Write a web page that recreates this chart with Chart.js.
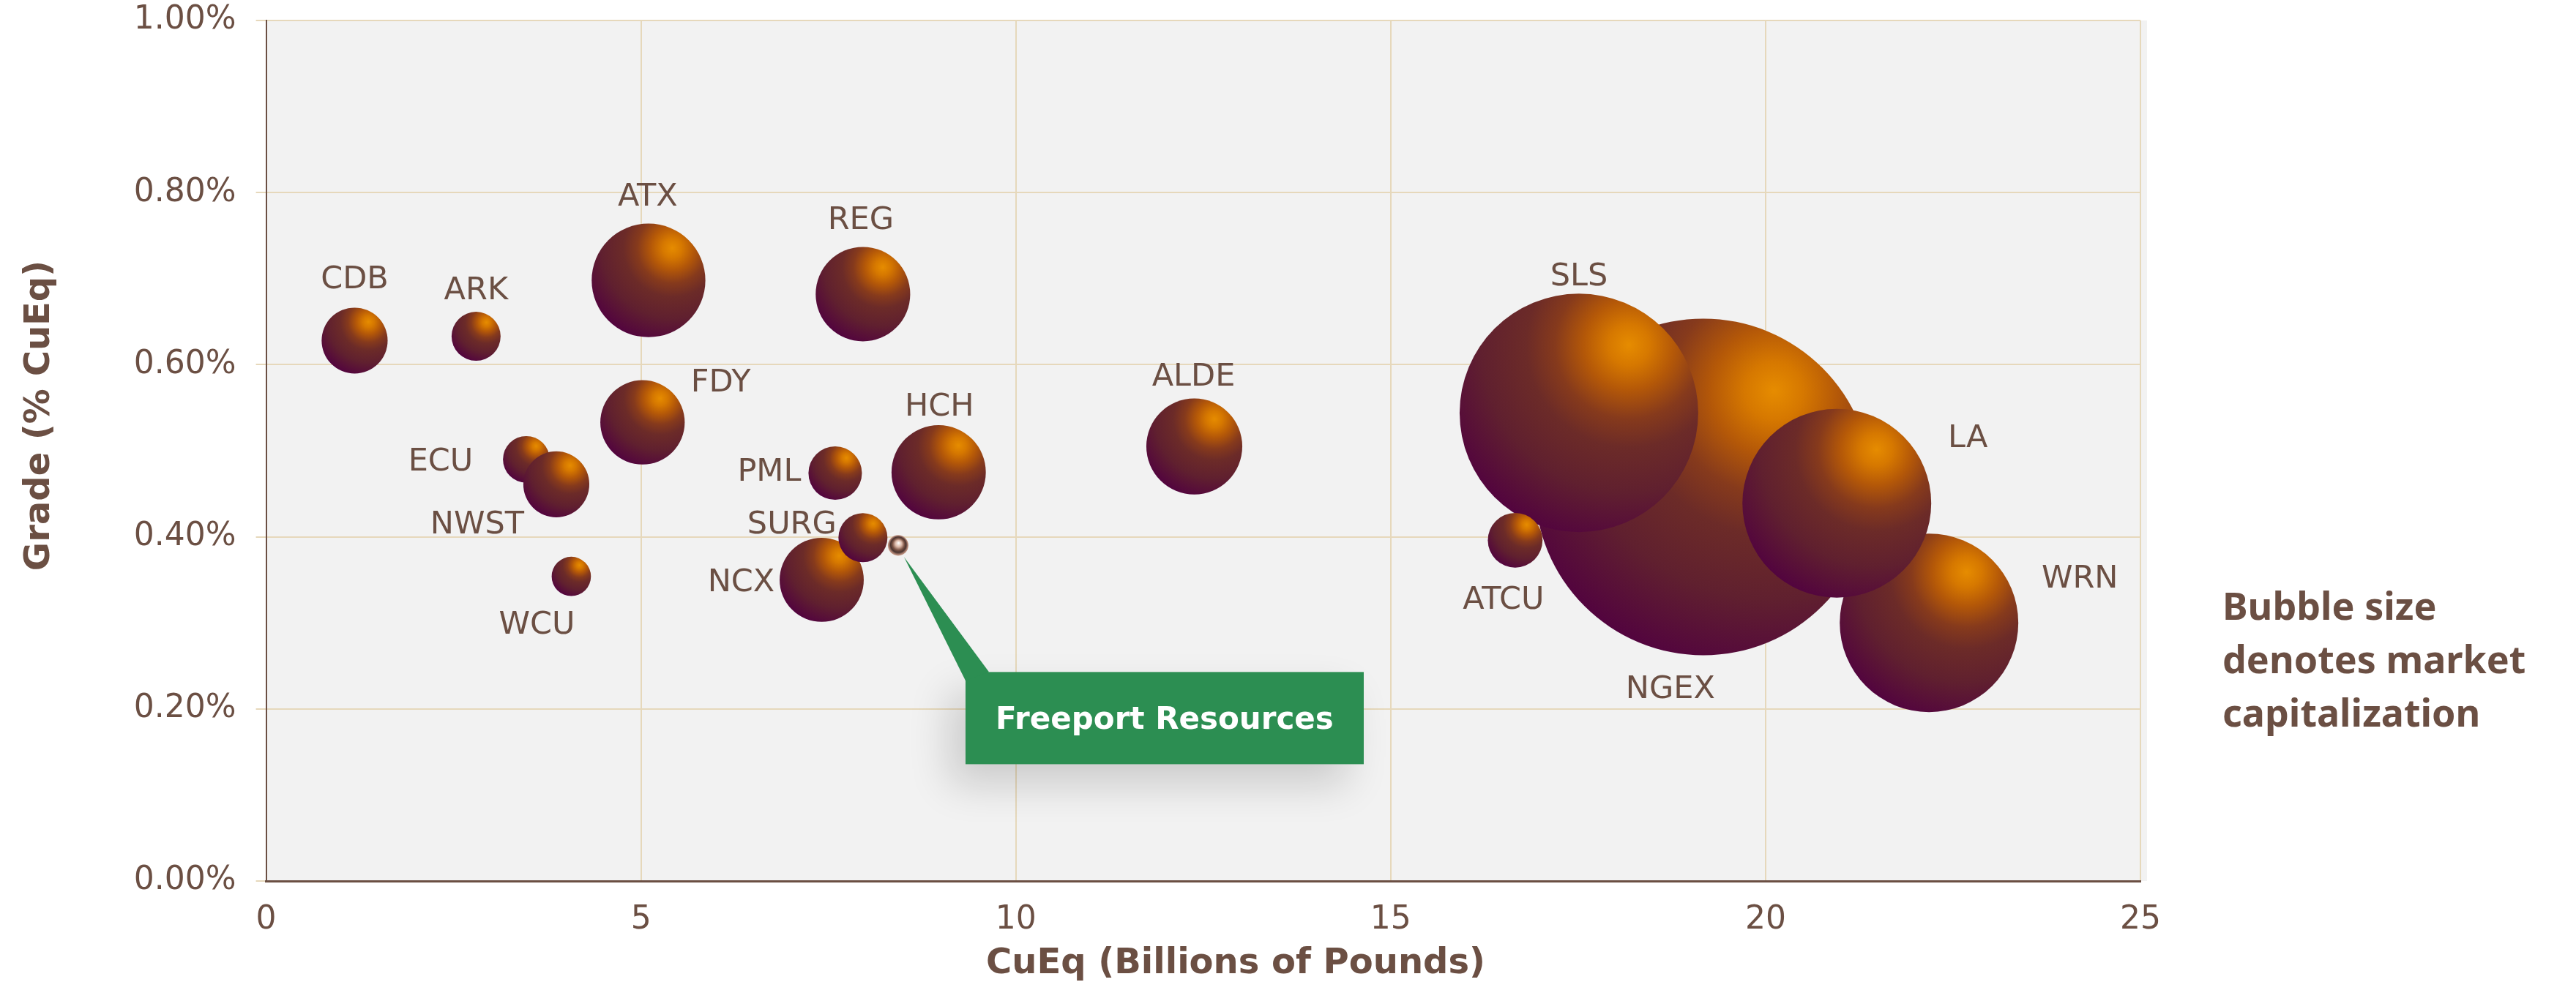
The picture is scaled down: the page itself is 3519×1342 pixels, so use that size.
<!DOCTYPE html>
<html>
<head>
<meta charset="utf-8">
<script src="https://cdn.jsdelivr.net/npm/chart.js@4.4.1/dist/chart.umd.min.js"></script>
<style>
html,body{margin:0;padding:0;background:#ffffff;}
canvas{display:block;}
</style>
</head>
<body>
<canvas id="c" width="3519" height="1342"></canvas>
<script>
// ---------- DATA ----------
const companies  = ['NGEX','WRN','LA','SLS','ATCU','CDB','ARK','ATX','REG','FDY','ECU','NWST','WCU','PML','HCH','NCX','SURG','ALDE'];
const cuEqBlbs   = [19.17, 22.18, 20.95, 17.51, 16.66, 1.18, 2.80, 5.10, 7.96, 5.02, 3.47, 3.87, 4.07, 7.59, 8.97, 7.41, 7.96, 12.38];
const gradePct   = [0.458, 0.300, 0.439, 0.544, 0.396, 0.628, 0.633, 0.698, 0.682, 0.533, 0.490, 0.461, 0.354, 0.474, 0.475, 0.350, 0.399, 0.505];
const marketCap  = [2500, 703, 786, 1255, 66, 96, 53, 285, 197, 157, 48, 96, 34, 63, 196, 156, 53, 203];

const highlightName  = ['Freeport Resources'];
const highlightCuEq  = [8.43];
const highlightGrade = [0.390];
const highlightCap   = [9.3];

const xTickLabels = ['0','5','10','15','20','25'];
const yTickLabels = ['0.00%','0.20%','0.40%','0.60%','0.80%','1.00%'];

const xTitle = 'CuEq (Billions of Pounds)';
const yTitle = 'Grade (% CuEq)';
const noteLines = ['Bubble size','denotes market','capitalization'];

// ---------- STYLE ----------
const BROWN = '#6b4f43';
const GRID = '#e6d8bb';
const GREEN = '#2c8e52';
const BUBBLE_K = 4.6; // px radius per sqrt(market cap)
const labelOffsets = {
  CDB:[0,-87], ARK:[0,-66], ATX:[-1,-118], REG:[-3,-104], FDY:[107,-58],
  ECU:[-117,0], NWST:[-108,52], WCU:[-47,63], PML:[-90,-5], HCH:[1,-93],
  SURG:[-97,-21], NCX:[-110,0], ALDE:[-1,-99], ATCU:[-16,78], SLS:[0,-190],
  NGEX:[-45,273], LA:[179,-92], WRN:[206,-64]
};

const mainData = companies.map((n,i)=>({x:cuEqBlbs[i], y:gradePct[i], r:BUBBLE_K*Math.sqrt(marketCap[i])}));
const hlData = highlightName.map((n,i)=>({x:highlightCuEq[i], y:highlightGrade[i], r:BUBBLE_K*Math.sqrt(highlightCap[i])}));

function centerOf(c){
  const ch=c.chart, xs=ch.scales && ch.scales.x, ys=ch.scales && ch.scales.y;
  if (!xs || !ys || !c.raw) return null;
  const cx=xs.getPixelForValue(c.raw.x), cy=ys.getPixelForValue(c.raw.y), r=c.raw.r;
  if (![cx,cy,r].every(Number.isFinite)) return null;
  return {cx,cy,r};
}
function sphereFill(c){
  if (c.type!=='data') return '#6b2a2a';
  const p=centerOf(c);
  if (!p) return '#6b2a2a';
  const {cx,cy,r}=p;
  const hx=cx+0.42*r, hy=cy-0.57*r;
  const g=c.chart.ctx.createRadialGradient(hx,hy,0,hx,hy,1.72*r);
  g.addColorStop(0,'#e68c00');
  g.addColorStop(0.10,'#d67800');
  g.addColorStop(0.22,'#b45808');
  g.addColorStop(0.36,'#863a1c');
  g.addColorStop(0.50,'#6c2b28');
  g.addColorStop(0.72,'#60202f');
  g.addColorStop(1,'#52033f');
  return g;
}
function metalFill(c){
  if (c.type!=='data') return '#a07060';
  const p=centerOf(c);
  if (!p) return '#a07060';
  const {cx,cy,r}=p;
  const g=c.chart.ctx.createRadialGradient(cx+0.05*r,cy-0.25*r,0,cx,cy,1.05*r);
  g.addColorStop(0,'#ffffff');
  g.addColorStop(0.3,'#dcb8a8');
  g.addColorStop(0.55,'#7a5244');
  g.addColorStop(0.72,'#4a3430');
  g.addColorStop(0.88,'#b08474');
  g.addColorStop(1,'#d2a896');
  return g;
}

const bgPlugin = {
  id:'bg',
  beforeDraw(chart){
    const {ctx, chartArea:a} = chart;
    ctx.save();
    ctx.fillStyle='#f2f2f2';
    ctx.fillRect(a.left, a.top, a.right-a.left+9, a.bottom-a.top);
    ctx.restore();
  }
};

const labelPlugin = {
  id:'labels',
  afterDatasetsDraw(chart){
    const ctx=chart.ctx;
    const meta=chart.getDatasetMeta(0);
    ctx.save();
    ctx.font='43px "DejaVu Sans"';
    ctx.fillStyle=BROWN;
    ctx.textAlign='center';
    ctx.textBaseline='alphabetic';
    const capH=31;
    meta.data.forEach((el,i)=>{
      const name=companies[i];
      const off=labelOffsets[name]||[0,0];
      ctx.fillText(name, el.x+off[0], el.y+off[1]+capH/2);
    });
    ctx.restore();

    // callout
    const hm=chart.getDatasetMeta(1);
    hm.data.forEach((el,i)=>{
      const bx=el.x+92, by=el.y+173, bw=544, bh=126;
      ctx.save();
      ctx.shadowColor='rgba(0,0,0,0.16)';
      ctx.shadowBlur=55;
      ctx.shadowOffsetX=-22;
      ctx.shadowOffsetY=28;
      ctx.fillStyle=GREEN;
      ctx.fillRect(bx,by,bw,bh);
      ctx.restore();
      ctx.save();
      ctx.fillStyle=GREEN;
      ctx.beginPath();
      ctx.moveTo(el.x+8, el.y+16);
      ctx.lineTo(bx, by+12);
      ctx.lineTo(bx+32, by);
      ctx.closePath();
      ctx.fill();
      ctx.fillStyle='#ffffff';
      ctx.font='bold 42px "DejaVu Sans"';
      ctx.textAlign='center';
      ctx.textBaseline='alphabetic';
      ctx.fillText(highlightName[i], bx+bw/2, by+bh/2+15);
      ctx.restore();
    });
  },
  afterDraw(chart){
    const ctx=chart.ctx;
    ctx.save();
    ctx.fillStyle=BROWN;
    ctx.font='bold 48px "DejaVu Sans"';
    ctx.textAlign='center';
    ctx.textBaseline='alphabetic';
    ctx.fillText(xTitle, 1688, 1330);
    ctx.translate(67, 568);
    ctx.rotate(-Math.PI/2);
    ctx.fillText(yTitle, 0, 0);
    ctx.restore();

    ctx.save();
    ctx.fillStyle=BROWN;
    ctx.font='bold 52px "Noto Sans"';
    ctx.textAlign='left';
    ctx.textBaseline='alphabetic';
    noteLines.forEach((t,i)=>ctx.fillText(t, 3036, 847+i*73));
    ctx.restore();
  }
};

new Chart(document.getElementById('c'), {
  type:'bubble',
  data:{
    datasets:[
      {label:'Peers', data:mainData, backgroundColor:sphereFill, borderWidth:0, hoverBorderWidth:0},
      {label:'Freeport', data:hlData, backgroundColor:metalFill, borderWidth:0, hoverBorderWidth:0}
    ]
  },
  options:{
    responsive:false,
    animation:false,
    devicePixelRatio:1,
    events:[],
    layout:{autoPadding:false, padding:{left:0, top:28, right:595, bottom:0}},
    plugins:{legend:{display:false}, tooltip:{enabled:false}},
    scales:{
      x:{
        type:'linear', min:0, max:25,
        ticks:{stepSize:5, padding:27, color:BROWN, font:{family:'DejaVu Sans', size:44},
               callback:(v,i)=>xTickLabels[i]},
        grid:{color:GRID, lineWidth:2, drawTicks:false},
        border:{color:BROWN, width:3},
        afterFit(s){ s.height=138; }
      },
      y:{
        type:'linear', min:0, max:1,
        ticks:{stepSize:0.2, padding:27, color:BROWN, font:{family:'DejaVu Sans', size:44},
               callback:(v,i)=>yTickLabels[i]},
        grid:{color:GRID, lineWidth:2, drawTicks:true, tickLength:14, tickColor:GRID},
        border:{color:BROWN, width:2},
        afterFit(s){ s.width=363.6; s.paddingTop=0; s.paddingBottom=0; }
      }
    }
  },
  plugins:[bgPlugin, labelPlugin]
});
</script>
</body>
</html>
